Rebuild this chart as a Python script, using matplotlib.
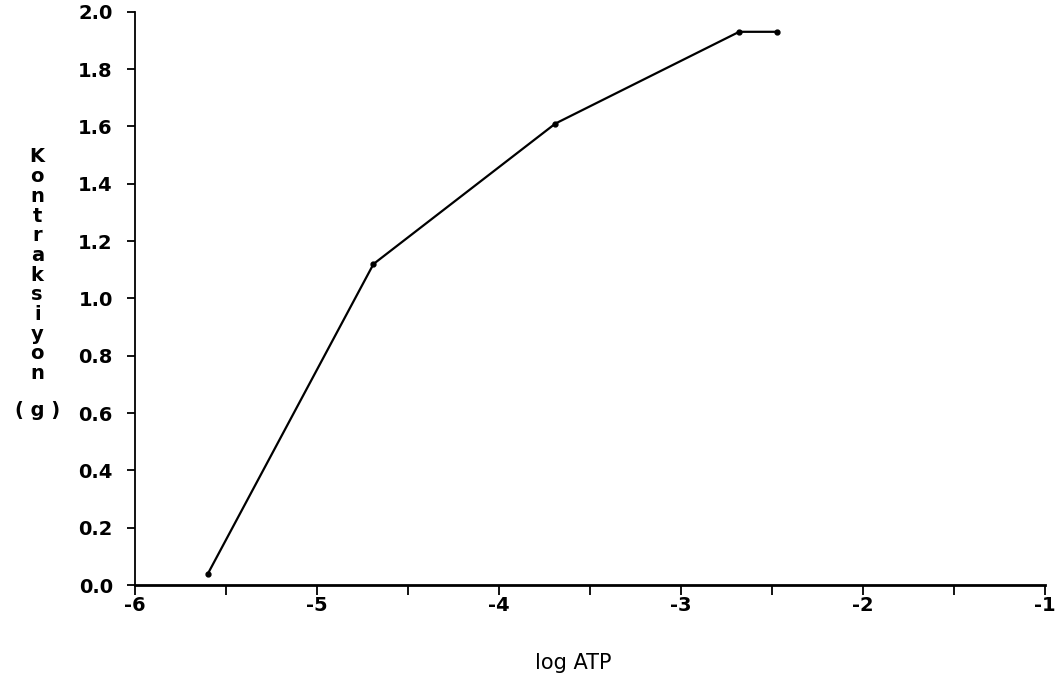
import matplotlib
matplotlib.use("Agg")
import matplotlib.pyplot as plt
from matplotlib.ticker import MultipleLocator

# log ATP concentration vs contraction (g)
log_atp = [-5.60, -4.69, -3.69, -2.68, -2.47]
kontraksiyon = [0.04, 1.12, 1.61, 1.93, 1.93]

x_ticks = [-6, -5, -4, -3, -2, -1]
y_ticks = [0.0, 0.2, 0.4, 0.6, 0.8, 1.0, 1.2, 1.4, 1.6, 1.8, 2.0]

plt.rcParams['font.family'] = ['DejaVu Sans']

fig = plt.figure(figsize=(10.64, 6.9), dpi=100)
ax = fig.add_axes([0.127, 0.152, 0.855, 0.831])

ax.plot(log_atp, kontraksiyon, color='black', lw=1.6, marker='o', ms=3.5,
        solid_capstyle='round')

ax.set_xlim(-6, -1)
ax.set_ylim(0, 2.0)
ax.set_xticks(x_ticks)
ax.set_xticklabels([f"{t:d}" for t in x_ticks])
ax.set_yticks(y_ticks)
ax.set_yticklabels([f"{t:.1f}" for t in y_ticks])
ax.xaxis.set_minor_locator(MultipleLocator(0.5))

for side in ['top', 'right']:
    ax.spines[side].set_visible(False)
ax.spines['left'].set_linewidth(1.3)
ax.spines['bottom'].set_linewidth(2.0)

ax.tick_params(axis='y', which='major', direction='out', length=6, width=1.3,
               labelsize=14, pad=10)
ax.tick_params(axis='x', which='major', direction='out', length=7, width=1.3,
               labelsize=14, pad=1)
ax.tick_params(axis='x', which='minor', direction='out', length=7, width=1.3)
for lab in ax.get_xticklabels() + ax.get_yticklabels():
    lab.set_fontweight('bold')

ax.set_xlabel('log ATP', fontsize=15)
ax.xaxis.set_label_coords(0.482, -0.118)

# stacked vertical y label like the original typewriter layout
label = "Kontraksiyon"
y0 = 1 - 157 / 690
step = 19.7 / 690
for i, ch in enumerate(label):
    fig.text(0.035, y0 - i * step, ch, ha='center', va='center',
             fontsize=14, fontweight='bold')
fig.text(0.035, 1 - 410 / 690, "( g )", ha='center', va='center', fontsize=14,
         fontweight='bold')

fig.savefig('out.png', dpi=100)
